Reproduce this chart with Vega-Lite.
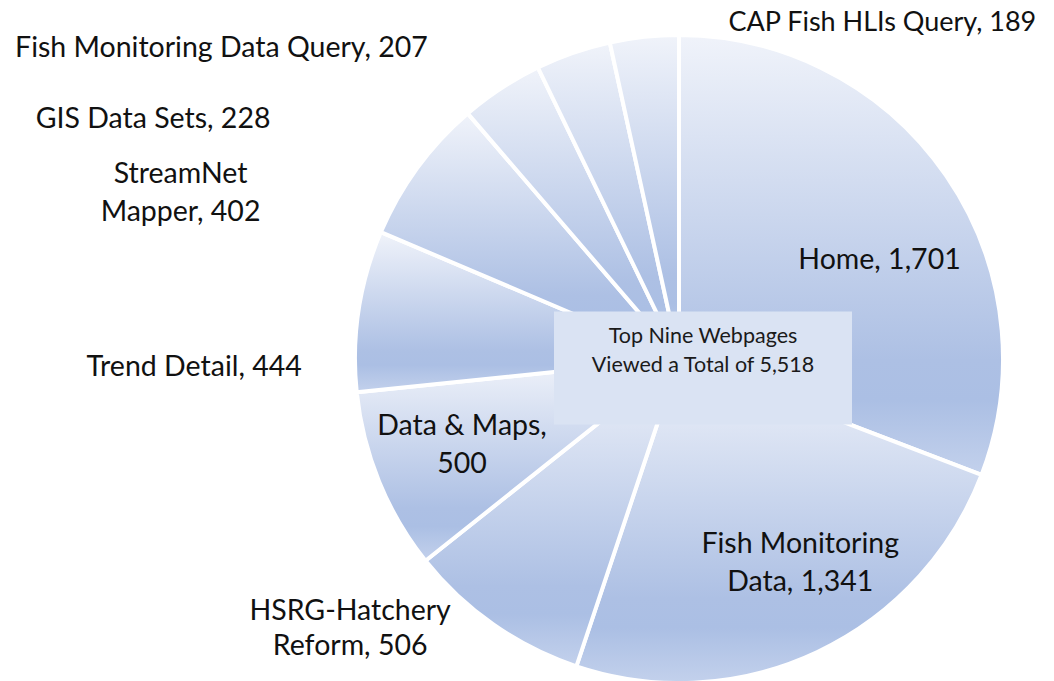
{
  "$schema": "https://vega.github.io/schema/vega-lite/v6.json",
  "width": 750,
  "height": 644,
  "autosize": {"type": "none"},
  "padding": {"left": 304, "top": 37, "right": 0, "bottom": 0},
  "background": "white",
  "config": {
    "view": {"stroke": null},
    "text": {"font": "Lato", "fontSize": 28.5, "color": "#111111", "lineHeight": 38}
  },
  "data": {
    "values": [
      {"rank": 1, "page": "Home", "views": 1701, "label": "Home, 1,701"},
      {"rank": 2, "page": "Fish Monitoring Data", "views": 1341, "label": "Fish Monitoring\nData, 1,341"},
      {"rank": 3, "page": "HSRG-Hatchery Reform", "views": 506, "label": "HSRG-Hatchery\nReform, 506"},
      {"rank": 4, "page": "Data & Maps", "views": 500, "label": "Data & Maps,\n500"},
      {"rank": 5, "page": "Trend Detail", "views": 444, "label": "Trend Detail, 444"},
      {"rank": 6, "page": "StreamNet Mapper", "views": 402, "label": "StreamNet\nMapper, 402"},
      {"rank": 7, "page": "GIS Data Sets", "views": 228, "label": "GIS Data Sets, 228"},
      {"rank": 8, "page": "Fish Monitoring Data Query", "views": 207, "label": "Fish Monitoring Data Query, 207"},
      {"rank": 9, "page": "CAP Fish HLIs Query", "views": 189, "label": "CAP Fish HLIs Query, 189"}
    ]
  },
  "layer": [
    {
      "encoding": {
        "theta": {"field": "views", "type": "quantitative", "stack": true},
        "order": {"field": "rank", "type": "quantitative"},
        "detail": {"field": "page", "type": "nominal"}
      },
      "layer": [
        {
          "mark": {
            "type": "arc",
            "outerRadius": 324,
            "stroke": "white",
            "strokeWidth": 4,
            "fill": {
              "gradient": "linear",
              "x1": 0, "y1": 0, "x2": 0, "y2": 1,
              "stops": [
                {"offset": 0, "color": "#F0F3FA"},
                {"offset": 0.74, "color": "#ADC0E4"},
                {"offset": 0.83, "color": "#ABBFE4"},
                {"offset": 1, "color": "#C3D1EC"}
              ]
            }
          }
        },
        {
          "mark": {"type": "text", "radius": 230, "dx": 11, "dy": 31, "align": "center", "baseline": "middle", "lineBreak": "\n"},
          "encoding": {"text": {"condition": {"test": "datum.page === 'Home'", "field": "label"}, "value": ""}}
        },
        {
          "mark": {"type": "text", "radius": 230, "dx": 23, "dy": -23, "align": "center", "baseline": "middle", "lineBreak": "\n"},
          "encoding": {"text": {"condition": {"test": "datum.page === 'Fish Monitoring Data'", "field": "label"}, "value": ""}}
        },
        {
          "mark": {"type": "text", "radius": 230, "dx": -4, "dy": -20, "align": "center", "baseline": "middle", "lineBreak": "\n"},
          "encoding": {"text": {"condition": {"test": "datum.page === 'Data & Maps'", "field": "label"}, "value": ""}}
        },
        {
          "mark": {"type": "text", "radius": 340, "dx": -134, "dy": -27, "align": "center", "baseline": "middle", "lineBreak": "\n", "lineHeight": 35},
          "encoding": {"text": {"condition": {"test": "datum.page === 'HSRG-Hatchery Reform'", "field": "label"}, "value": ""}}
        },
        {
          "mark": {"type": "text", "radius": 340, "dx": -41, "dy": 59, "align": "right", "baseline": "middle", "lineBreak": "\n"},
          "encoding": {"text": {"condition": {"test": "datum.page === 'Trend Detail'", "field": "label"}, "value": ""}}
        },
        {
          "mark": {"type": "text", "radius": 340, "dx": -224, "dy": 16, "align": "center", "baseline": "middle", "lineBreak": "\n"},
          "encoding": {"text": {"condition": {"test": "datum.page === 'StreamNet Mapper'", "field": "label"}, "value": ""}}
        },
        {
          "mark": {"type": "text", "radius": 340, "dx": -222, "dy": 44, "align": "right", "baseline": "middle", "lineBreak": "\n"},
          "encoding": {"text": {"condition": {"test": "datum.page === 'GIS Data Sets'", "field": "label"}, "value": ""}}
        },
        {
          "mark": {"type": "text", "radius": 340, "dx": -140, "dy": 10, "align": "right", "baseline": "middle", "lineBreak": "\n"},
          "encoding": {"text": {"condition": {"test": "datum.page === 'Fish Monitoring Data Query'", "field": "label"}, "value": ""}}
        },
        {
          "mark": {"type": "text", "radius": 340, "dx": 86, "dy": 2, "align": "left", "baseline": "middle", "lineBreak": "\n", "fontSize": 27},
          "encoding": {"text": {"condition": {"test": "datum.page === 'CAP Fish HLIs Query'", "field": "label"}, "value": ""}}
        }
      ]
    },
    {
      "data": {"values": [{"box": "total"}]},
      "mark": {
        "type": "point",
        "shape": "M-1,-0.38L1,-0.38L1,0.38L-1,0.38Z",
        "size": 88804,
        "filled": true,
        "fill": "#DAE3F3",
        "opacity": 1,
        "strokeWidth": 0,
        "xOffset": 24,
        "yOffset": 9
      },
      "encoding": {}
    },
    {
      "data": {"values": [{"box": "total"}]},
      "mark": {"type": "text", "fontSize": 21.5, "lineHeight": 29, "align": "center", "baseline": "middle", "xOffset": 24, "yOffset": -22, "color": "#1a1a1a"},
      "encoding": {"text": {"value": ["Top Nine Webpages", "Viewed a Total of 5,518"]}}
    }
  ]
}
